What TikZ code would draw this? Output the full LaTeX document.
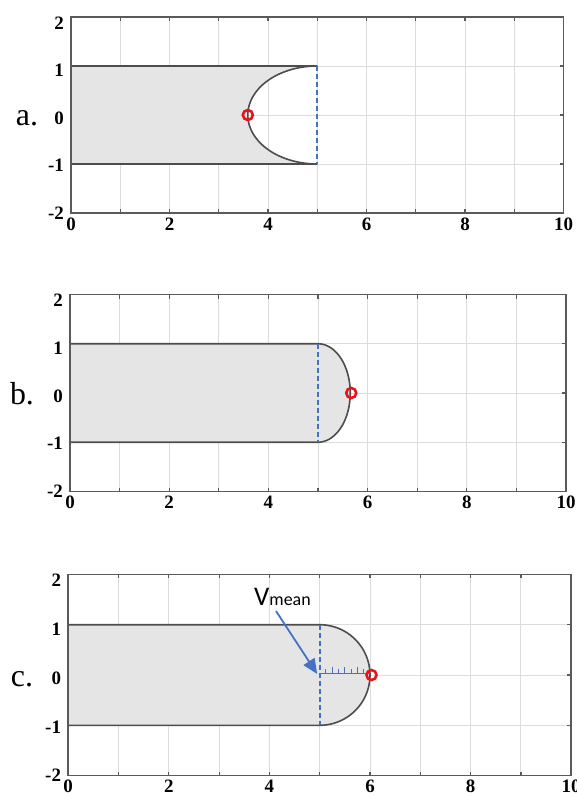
\documentclass[tikz,border=0pt]{standalone}
\usepackage{fontspec}
\setmainfont{Liberation Serif}
\newfontfamily\calibfont{Carlito}
\usetikzlibrary{arrows.meta}
\definecolor{fillgray}{HTML}{E5E5E5}
\definecolor{gridgray}{HTML}{DCDCDC}
\definecolor{edgegray}{HTML}{4D4D4D}
\definecolor{boxgray}{HTML}{5A5A5A}
\definecolor{mblue}{HTML}{4472C4}
\definecolor{mred}{HTML}{E8141C}
\tikzset{
  gridline/.style={draw=gridgray, line width=0.9bp},
  edgeline/.style={draw=edgegray, line width=1.6bp},
  boxline/.style={draw=boxgray, line width=1.6bp},
  tickline/.style={draw=boxgray, line width=1.2bp},
  chord/.style={draw=mblue, line width=1.7bp, dash pattern=on 5bp off 3bp},
  ticklab/.style={font=\fontsize{19}{19}\selectfont\bfseries, inner sep=0pt},
  panlab/.style={font=\fontsize{32}{32}\selectfont, inner sep=0pt},
  redring/.style={circle, draw=mred, line width=2.6bp, minimum size=10bp, inner sep=0pt},
  bluearrow/.style={draw=mblue, line width=1.8bp, -{Triangle[length=15bp,width=13bp]}},
  rulerline/.style={draw=mblue, line width=1.4bp},
}
\newcommand\plotgrid{%
  \foreach \i in {1,...,9} \draw[gridline] (\i,-2) -- (\i,2);
  \foreach \j in {-1,0,1} \draw[gridline] (0,\j) -- (10,\j);
}
\newcommand\plotaxes[1]{%
  \draw[boxline] (0,-2) rectangle (10,2);
  \foreach \i in {1,...,9} {
    \draw[tickline] (\i,-2) -- ++(0,4bp);
    \draw[tickline] (\i,2) -- ++(0,-4bp);
  }
  \foreach \j in {-1,0,1} \draw[tickline] (10,\j) -- ++(-4bp,0);
  \foreach \v in {0,2,...,10}
    \node[ticklab, yshift=-11bp] (#1x\v) at (\v,-2) {\v};
  \foreach \v [count=\n] in {2,1,0,-1,-2}
    \node[ticklab, anchor=east, xshift=-7bp] (#1y\n) at (0,{0.97*\v-0.06}) {\v};
}
\begin{document}
\begin{tikzpicture}[x=1bp, y=-1bp]
\useasboundingbox (0,0) rectangle (577,796);
\fill[white] (0,0) rectangle (577,796);

% ---------- panel a ----------
\begin{scope}[shift={(71,115)}, x=49.25bp, y=49bp]
  \plotgrid
  \fill[fillgray] (0,1) -- (5,1) -- plot[domain=90:270, samples=60] ({5+1.41*cos(\x)},{sin(\x)}) -- (0,-1) -- cycle;
  \draw[edgeline] (0,1) -- (5,1) -- plot[domain=90:270, samples=60] ({5+1.41*cos(\x)},{sin(\x)}) -- (0,-1);
  \draw[chord] (5,1) -- (5,-1);
  \plotaxes{a}
  \node[redring] (ra) at (3.59,0) {};
\end{scope}
\node[panlab] (la) at (27,118) {a.};

% ---------- panel b ----------
\begin{scope}[shift={(70,393)}, x=49.6bp, y=49.25bp]
  \plotgrid
  \fill[fillgray] (0,1) -- (5,1) -- plot[domain=90:-90, samples=60] ({5+0.65*cos(\x)},{sin(\x)}) -- (0,-1) -- cycle;
  \draw[edgeline] (0,1) -- (5,1) -- plot[domain=90:-90, samples=60] ({5+0.65*cos(\x)},{sin(\x)}) -- (0,-1);
  \draw[chord] (5,1) -- (5,-1);
  \plotaxes{b}
  \node[redring] (rb) at (5.67,0) {};
\end{scope}
\node[panlab] (lb) at (22,394) {b.};

% ---------- panel c ----------
\begin{scope}[shift={(68.2,675)}, x=50.3bp, y=50.3bp]
  \plotgrid
  \fill[fillgray] (0,1) -- (5,1) -- plot[domain=90:-90, samples=60] ({5+cos(\x)},{sin(\x)}) -- (0,-1) -- cycle;
  \draw[edgeline] (0,1) -- (5,1) -- plot[domain=90:-90, samples=60] ({5+cos(\x)},{sin(\x)}) -- (0,-1);
  \draw[rulerline] (5,0.03) -- (6,0.03);
  \foreach \k in {1,...,7} {
    \pgfmathsetmacro\th{ifthenelse(mod(\k,2)==0,6.5,4)}
    \draw[rulerline, line width=1bp] (5+\k/8,0.03) -- ++(0,\th bp);
  }
  \draw[chord] (5,1) -- (5,-1);
  \plotaxes{c}
  \node[redring] (rc) at (6.03,0) {};
  \coordinate (vtip) at (4.95,0.02);
\end{scope}
\node[panlab] (lc) at (22,679) {c.};

\node[inner sep=0pt, anchor=base west] (vlabel) at (254,605)
  {\calibfont\fontsize{27}{27}\selectfont V\fontsize{18}{18}\selectfont mean};
\coordinate (vtail) at (276,611);
\draw[bluearrow] (vtail) -- (vtip);
\end{tikzpicture}
\end{document}
